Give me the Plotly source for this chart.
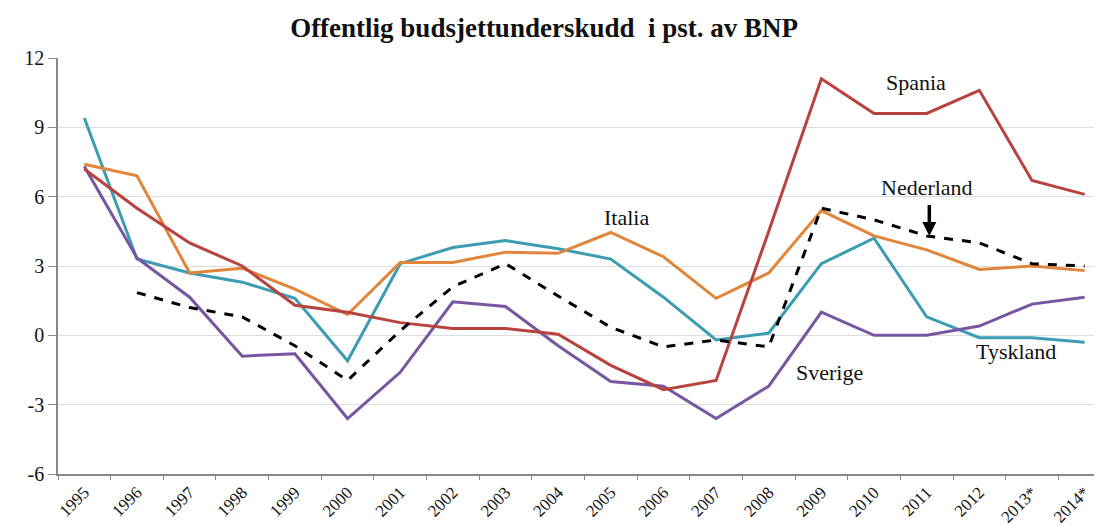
import plotly.graph_objects as go

years = ["1995", "1996", "1997", "1998", "1999", "2000", "2001", "2002", "2003", "2004",
         "2005", "2006", "2007", "2008", "2009", "2010", "2011", "2012", "2013*", "2014*"]

spania = [7.2, 5.5, 4.0, 3.0, 1.3, 1.0, 0.55, 0.3, 0.3, 0.05,
          -1.3, -2.35, -1.95, 4.5, 11.1, 9.6, 9.6, 10.6, 6.7, 6.1]
italia = [7.4, 6.9, 2.7, 2.9, 2.0, 0.9, 3.15, 3.15, 3.6, 3.55,
          4.45, 3.4, 1.6, 2.7, 5.4, 4.3, 3.7, 2.85, 3.0, 2.8]
tyskland = [9.4, 3.3, 2.7, 2.3, 1.6, -1.1, 3.1, 3.8, 4.1, 3.75,
            3.3, 1.65, -0.2, 0.1, 3.1, 4.2, 0.8, -0.1, -0.1, -0.3]
sverige = [7.3, 3.35, 1.65, -0.9, -0.8, -3.6, -1.6, 1.45, 1.25, -0.45,
           -2.0, -2.2, -3.6, -2.2, 1.0, 0.0, 0.0, 0.4, 1.35, 1.65]
nederland = [None, 1.85, 1.2, 0.8, -0.45, -1.95, 0.2, 2.1, 3.1, 1.7,
             0.35, -0.5, -0.2, -0.5, 5.5, 5.0, 4.3, 4.0, 3.1, 3.0]

y_ticks = [-6, -3, 0, 3, 6, 9, 12]
y_labels = ["-6", "-3", "0", "3", "6", "9", "12"]

serif = "Liberation Serif, Times New Roman, serif"

fig = go.Figure()

series = [
    ("Tyskland", tyskland, "#3B9CB2", "solid"),
    ("Sverige", sverige, "#7656A0", "solid"),
    ("Italia", italia, "#E0853A", "solid"),
    ("Spania", spania, "#B8423E", "solid"),
    ("Nederland", nederland, "#000000", "dash"),
]
for name, vals, color, dash in series:
    fig.add_trace(go.Scatter(
        x=years, y=vals, mode="lines", name=name,
        line=dict(color=color, width=3, dash=dash),
        connectgaps=False
    ))

# Series labels
labels = [
    ("Spania", 15.8, 10.95),
    ("Nederland", 16.0, 6.4),
    ("Italia", 10.3, 5.1),
    ("Sverige", 14.15, -1.6),
    ("Tyskland", 17.7, -0.7),
]
for text, xi, yv in labels:
    fig.add_annotation(x=xi, y=yv, xref="x", yref="y", text=text, showarrow=False,
                       font=dict(family=serif, size=22, color="#111111"))

# Arrow pointing at Nederland line
fig.add_annotation(x=16.05, y=4.3, ax=16.05, ay=5.7, xref="x", yref="y", axref="x", ayref="y",
                   text="", showarrow=True, arrowhead=2, arrowsize=0.8, arrowwidth=3.5,
                   arrowcolor="#000000")

# the page puts the plot 8px in from the top-left corner
fig.update_layout(
    width=1094,
    height=518,
    title=dict(text="<b>Offentlig budsjettunderskudd  i pst. av BNP</b>", x=0.49, xanchor="center",
               y=0.963, yanchor="middle", font=dict(family=serif, size=27, color="#111111")),
    plot_bgcolor="white",
    paper_bgcolor="white",
    showlegend=False,
    margin=dict(l=50, r=0, t=50, b=52),
    xaxis=dict(
        type="category",
        range=[-0.5, 19.33],
        tickson="boundaries",
        ticks="outside",
        ticklen=4,
        tickcolor="#888888",
        showline=True,
        linecolor="#888888",
        linewidth=1.5,
        showgrid=False,
        tickangle=-45,
        automargin=False,
        tickfont=dict(family=serif, size=17, color="#111111"),
    ),
    yaxis=dict(
        range=[-6, 12],
        tickvals=y_ticks,
        ticktext=y_labels,
        ticks="outside",
        ticklen=8,
        tickcolor="#888888",
        showline=True,
        linecolor="#888888",
        linewidth=1.5,
        gridcolor="#DDDDDD",
        gridwidth=1,
        zeroline=False,
        automargin=False,
        tickfont=dict(family=serif, size=20, color="#111111"),
    ),
)

fig.write_html("out.html")
